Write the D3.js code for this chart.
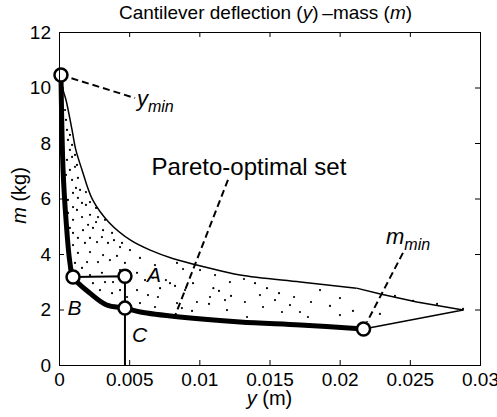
<!DOCTYPE html>
<html>
<head>
<meta charset="utf-8">
<script src="https://cdn.jsdelivr.net/npm/d3@7"></script>
<style>
  body { margin: 0; background: #fff; }
  svg { font-family: "Liberation Sans", Arial, Helvetica, sans-serif; }
</style>
</head>
<body>
<div id="chart"></div>
<script>
// axis ticks
var xTicks = [0, 0.005, 0.01, 0.015, 0.02, 0.025, 0.03]
var xTickLabels = ["0", "0.005", "0.01", "0.015", "0.02", "0.025", "0.03"]
var yTicks = [0, 2, 4, 6, 8, 10, 12]

// Pareto-optimal front (thick line), y in m, m in kg
var paretoY = [0.00014, 0.00029, 0.0005, 0.00078, 0.001, 0.0022, 0.0034, 0.0047, 0.0058, 0.0086, 0.0129, 0.0172, 0.0217]
var paretoM = [10.45, 7.03, 5.23, 3.68, 3.17, 2.59, 2.16, 2.05, 1.91, 1.73, 1.55, 1.44, 1.30]

// upper bound of the feasible set (thin line)
var upperY = [0.00014, 0.00029, 0.0005, 0.00093, 0.0012, 0.00164, 0.0024, 0.0036, 0.0051, 0.0065, 0.0081, 0.0104, 0.0129, 0.0172, 0.0212]
var upperM = [10.45, 9.91, 9.55, 8.47, 7.75, 7.03, 5.95, 5.12, 4.5, 4.14, 3.84, 3.53, 3.24, 2.99, 2.77]

// from the kink to the far tip, then back to m_min
var tailY = [0.0212, 0.0229, 0.0255, 0.0288, 0.0217]
var tailM = [2.77, 2.56, 2.27, 1.98, 1.30]

// feasible designs (dots)
var dotY = [0.00064, 0.00078, 0.00057, 0.00093, 0.00078, 0.00114, 0.00093, 0.00135, 0.001, 0.0015, 0.00192,
  0.001, 0.00164, 0.00221, 0.00264, 0.001, 0.00164, 0.00221, 0.00278, 0.00328,
  0.001, 0.00171, 0.00242, 0.00314, 0.00378, 0.001, 0.00185, 0.00271, 0.00349, 0.00435, 0.00506,
  0.00135, 0.00221, 0.00314, 0.00413, 0.00114, 0.002, 0.00278, 0.00363, 0.0047, 0.00577, 0.00684,
  0.00221, 0.00306, 0.00556, 0.0067, 0.00791, 0.00242, 0.00292, 0.00385, 0.00378, 0.00556, 0.00577,
  0.00705, 0.00684, 0.0072, 0.00876, 0.00955, 0.00983, 0.011, 0.01183, 0.01197,
  0.00841, 0.00884, 0.00762, 0.00827, 0.0114, 0.01226, 0.01325, 0.00841, 0.00948, 0.01069, 0.0134,
  0.01318, 0.01397, 0.01454, 0.01482, 0.01568, 0.01675, 0.01796, 0.01931, 0.02095, 0.01589, 0.01774,
  0.02287, 0.02394, 0.02523, 0.02694, 0.02879,
  0.00043, 0.0005, 0.00057, 0.00078, 0.00093, 0.00114, 0.00128, 0.0005, 0.00121, 0.00064, 0.00135,
  0.00192, 0.00064, 0.00128, 0.00207, 0.00264, 0.00078, 0.00135, 0.00221, 0.00306, 0.00392, 0.00449,
  0.00164, 0.00435, 0.00492, 0.00328, 0.00435, 0.00485, 0.00613, 0.00634, 0.00898, 0.01005, 0.01112,
  0.01218, 0.01076, 0.01432, 0.01539, 0.01646, 0.0186, 0.02002, 0.02002, 0.01717]
var dotM = [8.11, 7.75, 7.39, 7.50, 7.03, 7.14, 6.67, 6.74, 6.20, 6.31, 6.23,
  5.69, 5.84, 5.87, 5.66, 5.23, 5.33, 5.41, 5.33, 5.23,
  4.76, 4.86, 4.94, 4.86, 4.76, 4.32, 4.40, 4.43, 4.40, 4.25, 4.14,
  4.04, 4.07, 3.96, 3.93, 3.68, 3.71, 3.71, 3.78, 3.68, 3.86, 3.60,
  3.24, 3.32, 3.32, 3.14, 2.95, 2.95, 2.70, 2.99, 2.59, 2.70, 2.23,
  2.45, 2.09, 2.77, 2.05, 2.95, 2.27, 2.77, 2.34, 1.98,
  3.68, 3.46, 3.06, 2.85, 2.67, 2.49, 2.27, 2.23, 1.95, 2.20, 1.73,
  3.10, 2.95, 2.09, 2.77, 2.59, 2.45, 2.27, 2.13, 1.95, 1.91, 1.73,
  1.84, 2.49, 2.31, 2.20, 2.02,
  9.19, 8.83, 8.47, 8.29, 7.93, 7.57, 7.21, 6.85, 6.38, 5.95, 6.02,
  5.77, 5.48, 5.59, 5.05, 5.15, 4.94, 4.58, 4.58, 4.61, 4.50, 4.40,
  3.50, 3.42, 3.14, 2.99, 2.70, 2.45, 3.06, 2.52, 2.70, 3.42, 3.24,
  2.99, 2.45, 2.52, 2.34, 2.16, 2.70, 2.41, 1.80, 1.91]

// marked designs
var markY = [0.00014, 0.001, 0.0047, 0.0047, 0.0217]
var markM = [10.45, 3.17, 3.2, 2.05, 1.30]

// labels A, B, C
var letterText = ["A", "B", "C"]
var letterY = [0.00627, 0.0006, 0.0052]
var letterM = [2.99, 1.8, 0.83]

var margin = { top: 32, right: 17, bottom: 52, left: 59 }
var width = 497 - margin.left - margin.right
var height = 417 - margin.top - margin.bottom

var x = d3.scaleLinear().domain([0, 0.03]).range([0, width])
var yScale = d3.scaleLinear().domain([0, 12]).range([height, 0])

var svg = d3.select("#chart").append("svg")
    .attr("width", 497)
    .attr("height", 417)
  .append("g")
    .attr("transform", "translate(" + margin.left + "," + margin.top + ")")

var line = d3.line()
    .x(function(d) { return x(d[0]) })
    .y(function(d) { return yScale(d[1]) })
var smooth = d3.line()
    .x(function(d) { return x(d[0]) })
    .y(function(d) { return yScale(d[1]) })
    .curve(d3.curveCatmullRom.alpha(0.5))

function zip(a, b) { return a.map(function(v, i) { return [v, b[i]] }) }

// dots
svg.selectAll(".dot")
    .data(zip(dotY, dotM))
  .enter().append("circle")
    .attr("class", "dot")
    .attr("cx", function(d) { return x(d[0]) })
    .attr("cy", function(d) { return yScale(d[1]) })
    .attr("r", 1.1)
    .attr("fill", "#000")

svg.append("path")
    .attr("d", smooth(zip(upperY, upperM)))
    .attr("fill", "none").attr("stroke", "#000").attr("stroke-width", 1.5)

svg.append("path")
    .attr("d", line(zip(tailY, tailM)))
    .attr("fill", "none").attr("stroke", "#000").attr("stroke-width", 1.5)
    .attr("stroke-linejoin", "round")

svg.append("path")
    .attr("d", smooth(zip(paretoY, paretoM)))
    .attr("fill", "none").attr("stroke", "#000").attr("stroke-width", 5)
    .attr("stroke-linejoin", "round")

// B -> A -> C -> axis guide lines
svg.append("path")
    .attr("d", line([[markY[1], markM[1]], [markY[2], markM[2]], [markY[3], 0]]))
    .attr("fill", "none").attr("stroke", "#000").attr("stroke-width", 2)

// dashed leaders
var leaders = [
  [[0.00014, 10.45], [0.00542, 9.62]],
  [[0.01204, 6.67], [0.00827, 1.77]],
  [[0.02451, 4.04], [0.02195, 1.55]]
]
svg.selectAll(".leader")
    .data(leaders)
  .enter().append("path")
    .attr("class", "leader")
    .attr("d", line)
    .attr("fill", "none").attr("stroke", "#000").attr("stroke-width", 2)
    .attr("stroke-dasharray", "7,4")

svg.selectAll(".mark")
    .data(zip(markY, markM))
  .enter().append("circle")
    .attr("class", "mark")
    .attr("cx", function(d) { return x(d[0]) })
    .attr("cy", function(d) { return yScale(d[1]) })
    .attr("r", 6.5)
    .attr("fill", "#fff").attr("stroke", "#000").attr("stroke-width", 2.5)

// letters
svg.selectAll(".letter")
    .data(letterText)
  .enter().append("text")
    .attr("class", "letter")
    .attr("x", function(d, i) { return x(letterY[i]) })
    .attr("y", function(d, i) { return yScale(letterM[i]) })
    .attr("font-size", 21).attr("font-style", "italic")
    .text(function(d) { return d })

// y_min / m_min labels
var ymin = svg.append("text")
    .attr("x", x(0.00555)).attr("y", yScale(9.35))
    .attr("font-size", 22)
ymin.append("tspan").attr("font-style", "italic").text("y")
ymin.append("tspan").attr("font-style", "italic").attr("font-size", 16).attr("dy", 6).text("min")

var mmin = svg.append("text")
    .attr("x", x(0.0233)).attr("y", yScale(4.35))
    .attr("font-size", 22)
mmin.append("tspan").attr("font-style", "italic").text("m")
mmin.append("tspan").attr("font-style", "italic").attr("font-size", 16).attr("dy", 6).text("min")

svg.append("text")
    .attr("x", x(0.0066)).attr("y", yScale(6.85))
    .attr("font-size", 24)
    .text("Pareto-optimal set")

// axes box with inward ticks
function styleAxis(g) {
  g.selectAll("path").attr("stroke", "#000")
  g.selectAll("line").attr("stroke", "#000")
  g.selectAll("text").attr("fill", "#000").attr("font-size", 19)
    .attr("font-family", "'Liberation Sans', Arial, sans-serif")
}

svg.append("g")
    .attr("transform", "translate(0," + height + ")")
    .call(d3.axisBottom(x).tickValues(xTicks).tickSize(-5).tickPadding(8)
      .tickFormat(function(d, i) { return xTickLabels[i] }))
    .call(styleAxis)

svg.append("g")
    .call(d3.axisTop(x).tickValues(xTicks).tickSize(-5).tickFormat(""))
    .call(styleAxis)

svg.append("g")
    .call(d3.axisLeft(yScale).tickValues(yTicks).tickSize(-5).tickPadding(8))
    .call(styleAxis)

svg.append("g")
    .attr("transform", "translate(" + width + ",0)")
    .call(d3.axisRight(yScale).tickValues(yTicks).tickSize(-5).tickFormat(""))
    .call(styleAxis)

// axis labels and title
var xl = svg.append("text")
    .attr("x", width / 2).attr("y", height + 40)
    .attr("text-anchor", "middle").attr("font-size", 20)
xl.append("tspan").attr("font-style", "italic").text("y")
xl.append("tspan").text(" (m)")

var yl = svg.append("text")
    .attr("transform", "translate(" + (-33) + "," + (height / 2 - 3) + ") rotate(-90)")
    .attr("text-anchor", "middle").attr("font-size", 20)
yl.append("tspan").attr("font-style", "italic").text("m")
yl.append("tspan").text(" (kg)")

var title = svg.append("text")
    .attr("x", width / 2 - 4).attr("y", -13)
    .attr("text-anchor", "middle").attr("font-size", 19)
title.append("tspan").text("Cantilever deflection (")
title.append("tspan").attr("font-style", "italic").text("y")
title.append("tspan").text(")\u2009\u2013mass (")
title.append("tspan").attr("font-style", "italic").text("m")
title.append("tspan").text(")")
</script>
</body>
</html>
